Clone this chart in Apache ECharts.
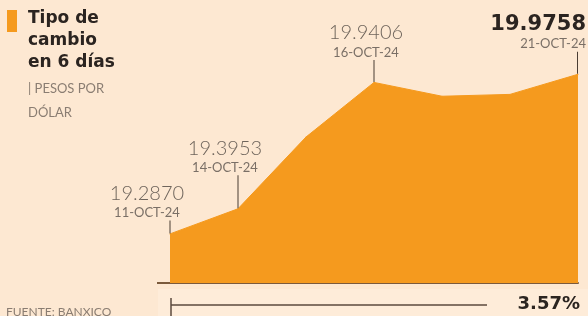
<!DOCTYPE html>
<html>
<head>
<meta charset="utf-8">
<script src="https://cdn.jsdelivr.net/npm/echarts@6/dist/echarts.min.js"></script>
<style>
  html, body { margin: 0; padding: 0; background: #fde8d2; }
  #chart { width: 588px; height: 316px; }
</style>
</head>
<body>
<div id="chart"></div>
<script>
// Tipo de cambio FIX (Banxico), pesos por dólar
const fechas = ['11-OCT-24', '14-OCT-24', '15-OCT-24', '16-OCT-24', '17-OCT-24', '18-OCT-24', '21-OCT-24'];
const tipoCambio = [19.2870, 19.3953, 19.705, 19.9406, 19.881, 19.889, 19.9758];
const fechasConEtiqueta = ['11-OCT-24', '14-OCT-24', '16-OCT-24', '21-OCT-24'];

const NARANJA = '#f59a1e';
const GRIS = '#6f655c';
const OSCURO = '#2b2420';
const CAFE = '#7b5a3c';

// largo de la línea guía y corrimiento horizontal de cada etiqueta
const guia = {
    '11-OCT-24': { largo: 13, corrimiento: 23 },
    '14-OCT-24': { largo: 33, corrimiento: 13 },
    '16-OCT-24': { largo: 22, corrimiento: 8 },
    '21-OCT-24': { largo: 22, corrimiento: 8 }
};

/**
 * Etiqueta de valor + fecha + línea guía para un punto
 */
function etiqueta(i) {
    let fecha = fechas[i];
    let g = guia[fecha];
    let ultimo = i === fechas.length - 1;
    let valor = tipoCambio[i].toFixed(4);

    let rich = {
        v: ultimo
            ? { fontFamily: 'DejaVu Sans', fontWeight: 'bold', fontSize: 21, color: OSCURO, lineHeight: 25 }
            : { fontFamily: 'Lato', fontWeight: 300, fontSize: 20, color: GRIS, lineHeight: 24 },
        d: { fontFamily: 'Lato', fontSize: 13, color: '#7a6f66', lineHeight: 15 },
        sp: { width: ultimo ? g.corrimiento : g.corrimiento * 2, height: g.largo, lineHeight: g.largo },
        l: { width: 1, height: g.largo, lineHeight: g.largo, backgroundColor: '#4a3d33' }
    };

    return {
        show: true,
        position: 'top',
        distance: 0,
        align: ultimo ? 'right' : 'center',
        offset: ultimo ? [g.corrimiento, 0] : [-g.corrimiento, 0],
        formatter: ultimo
            ? `{v|${valor}}\n{d|${fecha}}\n{l|}{sp|}`
            : `{v|${valor}}\n{d|${fecha}}\n{sp|}{l|}`,
        rich: rich
    };
}

let datos = tipoCambio.map((v, i) => {
    if (!fechasConEtiqueta.includes(fechas[i])) return v;
    return { value: v, label: etiqueta(i) };
});

let variacion = ((tipoCambio[tipoCambio.length - 1] / tipoCambio[0] - 1) * 100).toFixed(2) + '%';

let chart = echarts.init(document.getElementById('chart'));

let option = {
    backgroundColor: '#fde8d2',
    animation: false,
    grid: { left: 170, right: 10, top: 20, bottom: 33 },
    xAxis: {
        type: 'category',
        data: fechas,
        boundaryGap: false,
        axisLine: { lineStyle: { color: CAFE, width: 2 } },
        axisTick: { show: false },
        axisLabel: { show: false }
    },
    yAxis: { type: 'value', min: 19.075, max: 20.21, show: false },
    series: [{
        type: 'line',
        data: datos,
        symbol: 'circle',
        symbolSize: 1,
        showAllSymbol: true,
        itemStyle: { color: NARANJA },
        lineStyle: { color: NARANJA, width: 1 },
        areaStyle: { color: NARANJA, opacity: 1 },
        z: 3
    }],
    graphic: [
        // franja clara bajo la gráfica
        { type: 'rect', shape: { x: 158, y: 289, width: 430, height: 27 }, style: { fill: '#feecd9' }, z: -1 },
        // extensión de la línea base
        { type: 'line', shape: { x1: 157, y1: 283, x2: 171, y2: 283 }, style: { stroke: CAFE, lineWidth: 2 } },
        // título
        { type: 'rect', shape: { x: 7, y: 10, width: 10, height: 22 }, style: { fill: NARANJA } },
        {
            type: 'text', left: 28, top: 8,
            style: {
                text: 'Tipo de\ncambio\nen 6 días',
                font: 'bold 17px "DejaVu Sans"',
                lineHeight: 22,
                fill: OSCURO
            }
        },
        {
            type: 'text', left: 28, top: 77,
            style: {
                text: '| PESOS POR\nDÓLAR',
                font: '13px Lato',
                lineHeight: 24,
                fill: '#8a7d72'
            }
        },
        // variación del periodo
        { type: 'line', shape: { x1: 171, y1: 298, x2: 171, y2: 316 }, style: { stroke: '#5b4a3c', lineWidth: 1.5 } },
        { type: 'line', shape: { x1: 171, y1: 305, x2: 487, y2: 305 }, style: { stroke: '#5b4a3c', lineWidth: 1.5 } },
        {
            type: 'text', right: 8, top: 295,
            style: { text: variacion, font: 'bold 18px "DejaVu Sans"', fill: OSCURO }
        },
        {
            type: 'text', left: 6, top: 306,
            style: { text: 'FUENTE: BANXICO', font: '12px Lato', fill: '#8a7d72' }
        }
    ]
};

chart.setOption(option);
window.addEventListener('resize', () => chart.resize());
</script>
</body>
</html>
